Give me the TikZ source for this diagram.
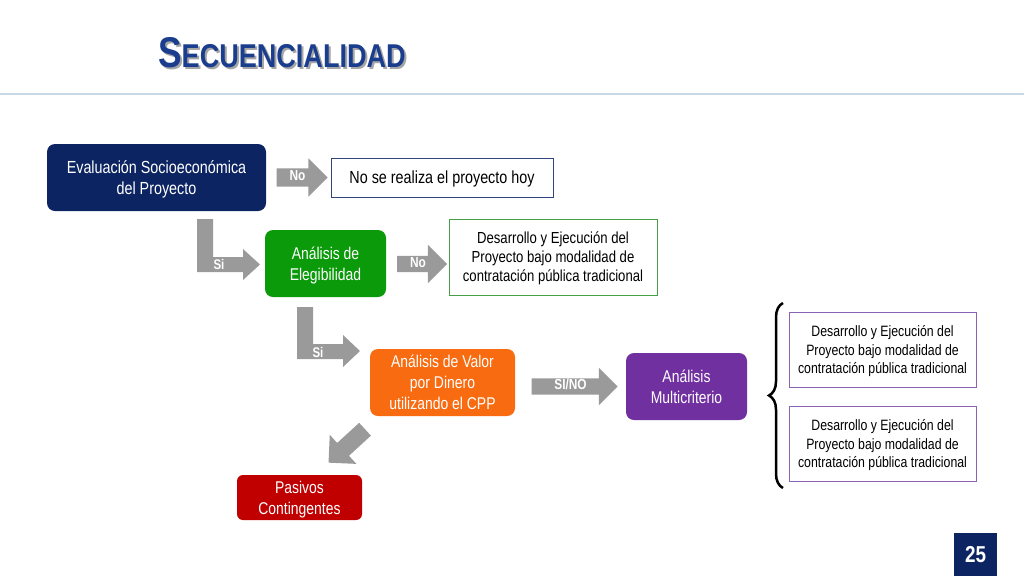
\documentclass[tikz,border=0pt]{standalone}
\usepackage{fontspec}
\setmainfont{Liberation Sans}[FakeStretch=0.82]
\usetikzlibrary{shapes.arrows,decorations.pathreplacing}

\definecolor{azulosc}{HTML}{0C2461}
\definecolor{azultit}{HTML}{1B3D8E}
\definecolor{verde}{HTML}{0A9A0A}
\definecolor{verdeborde}{HTML}{45A045}
\definecolor{naranja}{HTML}{F86B10}
\definecolor{morado}{HTML}{7030A0}
\definecolor{moradoborde}{HTML}{8C62B5}
\definecolor{rojo}{HTML}{C00000}
\definecolor{gris}{HTML}{9A9A9A}
\definecolor{linea}{HTML}{C9D8E6}

\tikzset{
  paso/.style={rounded corners=8pt, text=white, align=center, inner sep=0pt,
    text depth=-1.5pt, font=\fontsize{17}{21}\selectfont},
  caja/.style={draw, fill=white, align=center, inner sep=0pt, line width=1pt,
    text depth=-1.5pt, font=\fontsize{15}{18.5}\selectfont},
  flecha/.style={single arrow, fill=gris, single arrow head extend=10pt,
    text height=8pt, text depth=2pt, inner ysep=4pt, inner xsep=0pt,
    minimum width=0pt, text=white, font=\fontsize{14.5}{14.5}\selectfont\bfseries},
  etiq/.style={text=white, inner sep=0pt, font=\fontsize{14}{14}\selectfont\bfseries}
}

\begin{document}
\begin{tikzpicture}[x=1pt,y=-1pt]
\useasboundingbox (0,0) rectangle (1024,576);

% titulo
\node[anchor=base west, inner sep=0pt, text=black!35] at (160,69) {\bfseries\fontsize{43}{43}\selectfont S\fontsize{33}{33}\selectfont ECUENCIALIDAD};
\node[anchor=base west, inner sep=0pt, text=azultit] (titulo) at (158,67) {\bfseries\fontsize{43}{43}\selectfont S\fontsize{33}{33}\selectfont ECUENCIALIDAD};
\draw[linea, line width=1.5pt] (0,94) -- (1024,94);

% cajas de colores
\node[paso, fill=azulosc, font=\fontsize{17.5}{21}\selectfont, minimum width=219, minimum height=67] (eval) at (156.5,177.5) {Evaluación Socioeconómica\\del Proyecto};
\node[paso, fill=verde, minimum width=121, minimum height=67] (eleg) at (325.5,263.5) {Análisis de\\Elegibilidad};
\node[paso, fill=naranja, minimum width=145, minimum height=67] (valor) at (442.5,382.5) {Análisis de Valor\\por Dinero\\utilizando el CPP};
\node[paso, fill=morado, minimum width=121, minimum height=67] (multi) at (686.5,386.5) {Análisis\\Multicriterio};
\node[paso, fill=rojo, rounded corners=6pt, minimum width=125, minimum height=45] (pasivos) at (299.5,497.5) {Pasivos\\Contingentes};

% cajas blancas
\node[caja, draw=azulosc!85, text depth=-3.5pt, font=\fontsize{17.5}{21}\selectfont, minimum width=222, minimum height=39] (hoy) at (442,177.5) {No se realiza el proyecto hoy};
\node[caja, draw=verdeborde, font=\fontsize{16}{19}\selectfont, minimum width=208, minimum height=76] (trad1) at (553,257) {Desarrollo y Ejecución del\\Proyecto bajo modalidad de\\contratación pública tradicional};
\node[caja, draw=moradoborde, minimum width=187, minimum height=75] (trad2) at (882.5,349.5) {Desarrollo y Ejecución del\\Proyecto bajo modalidad de\\contratación pública tradicional};
\node[caja, draw=moradoborde, minimum width=187, minimum height=75] (trad3) at (882.5,443.5) {Desarrollo y Ejecución del\\Proyecto bajo modalidad de\\contratación pública tradicional};

% flechas
\node[flecha, minimum height=51] (no1) at (297.5,177.5) {No};
\node[flecha, minimum height=50, inner ysep=3pt, single arrow head extend=11pt] (no2) at (418,264) {No};
\node[flecha, minimum height=86, inner ysep=3pt, single arrow head extend=10.5pt] (sino) at (570.5,386.5) {SI/NO};
\node[flecha, minimum height=49.5, inner ysep=3.5pt, single arrow head extend=11pt, rotate=222.5] (diag) at (350,443) {};

\fill[gris] (197,219) -- (213,219) -- (213,257) -- (243,257) -- (243,249) -- (260,264.5) -- (243,280) -- (243,272) -- (197,272) -- cycle;
\node[etiq] (si1) at (219,264) {Si};
\fill[gris] (297,307) -- (313,307) -- (313,344) -- (343,344) -- (343,335) -- (360,351) -- (343,367) -- (343,359) -- (297,359) -- cycle;
\node[etiq] (si2) at (318,352) {Si};

% llave
\draw[decorate, decoration={brace, amplitude=14pt}, line width=2.5pt] (783,488) -- (783,303);

% pagina
\node[fill=azulosc, minimum size=43, inner sep=0pt, text=white, font=\bfseries\fontsize{23}{23}\selectfont] (pag) at (975.5,554.5) {25};
\end{tikzpicture}
\end{document}
